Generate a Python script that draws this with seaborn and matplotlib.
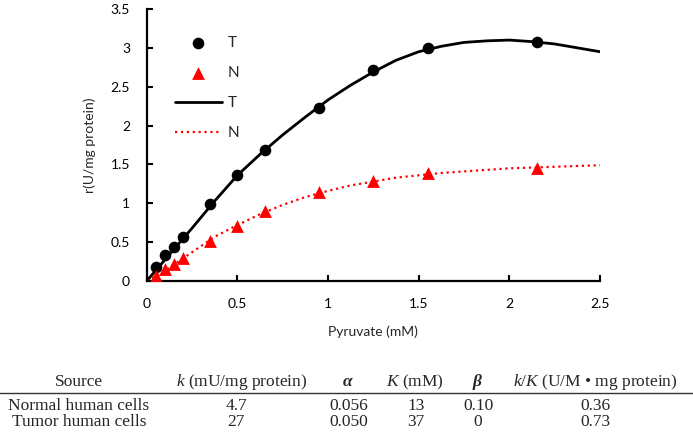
import matplotlib
matplotlib.use('Agg')
import matplotlib.pyplot as plt
import seaborn as sns
from matplotlib.lines import Line2D

# measured points (pyruvate mM vs rate)
pyruvate = [0.05, 0.1, 0.15, 0.2, 0.35, 0.5, 0.65, 0.95, 1.25, 1.55, 2.15]
rate_t = [0.18, 0.33, 0.44, 0.56, 0.99, 1.36, 1.68, 2.23, 2.71, 3.00, 3.07]
rate_n = [0.07, 0.15, 0.22, 0.29, 0.52, 0.71, 0.90, 1.14, 1.29, 1.39, 1.45]

# fitted curves
fit_x = [0, 0.125, 0.25, 0.375, 0.5, 0.625, 0.75, 0.875, 1.0, 1.125, 1.25,
         1.375, 1.5, 1.625, 1.75, 1.875, 2.0, 2.125, 2.25, 2.375, 2.5]
fit_t = [0, 0.34, 0.68, 1.03, 1.36, 1.63, 1.88, 2.11, 2.33, 2.52, 2.69,
         2.84, 2.95, 3.02, 3.07, 3.09, 3.10, 3.08, 3.05, 3.00, 2.95]
fit_n = [0, 0.17, 0.37, 0.57, 0.72, 0.86, 0.98, 1.08, 1.16, 1.23, 1.28,
         1.33, 1.36, 1.39, 1.41, 1.43, 1.45, 1.46, 1.47, 1.48, 1.49]

x_ticks = [0, 0.5, 1, 1.5, 2, 2.5]
x_tick_labels = ['0', '0.5', '1', '1.5', '2', '2.5']
y_ticks = [0, 0.5, 1, 1.5, 2, 2.5, 3, 3.5]
y_tick_labels = ['0', '0.5', '1', '1.5', '2', '2.5', '3', '3.5']

# table below the chart
table_header = ['Source', r'$k$ (mU/mg protein)', 'α', r'$K$ (mM)', 'β',
                r'$k/K$ (U/M • mg protein)']
sources = ['Normal human cells', 'Tumor human cells']
k_vals = ['4.7', '27']
alpha_vals = ['0.056', '0.050']
K_vals = ['13', '37']
beta_vals = ['0.10', '0']
kK_vals = ['0.36', '0.73']

sns.set_style('ticks')
plt.rcParams['font.family'] = ['Lato', 'DejaVu Sans']
plt.rcParams['mathtext.fontset'] = 'custom'
plt.rcParams['mathtext.it'] = 'Liberation Serif:italic'
plt.rcParams['mathtext.rm'] = 'Liberation Serif'

fig = plt.figure(figsize=(6.93, 4.32), dpi=100)
ax = fig.add_axes([0.2117, 0.3495, 0.6541, 0.6297])

sns.lineplot(x=fit_x, y=fit_t, color='black', lw=2, ax=ax, label='T')
sns.lineplot(x=fit_x, y=fit_n, color='red', lw=1.6, linestyle=':', ax=ax, label='N')
sns.scatterplot(x=pyruvate, y=rate_t, marker='o', s=70, color='black',
                edgecolor='black', linewidth=0, ax=ax, label='T', zorder=3)
sns.scatterplot(x=pyruvate, y=rate_n, marker='^', s=85, color='red',
                edgecolor='red', linewidth=0, ax=ax, label='N', zorder=3)

handles, labels = ax.get_legend_handles_labels()
order = [2, 3, 0, 1]
ax.legend([handles[i] for i in order], [labels[i] for i in order],
          loc='upper left', bbox_to_anchor=(0.062, 0.90), frameon=False,
          borderpad=0, borderaxespad=0, handlelength=3.1, handletextpad=0.35,
          labelspacing=1.05, fontsize=11)

ax.set_xlim(0, 2.5)
ax.set_ylim(0, 3.5)
ax.set_xticks(x_ticks)
ax.set_xticklabels(x_tick_labels)
ax.set_yticks(y_ticks)
ax.set_yticklabels(y_tick_labels)
ax.tick_params(direction='in', length=4, width=1.5, labelsize=10, pad=12,
               colors='black')
for side in ['left', 'bottom']:
    ax.spines[side].set_linewidth(1.6)
    ax.spines[side].set_color('black')
sns.despine(ax=ax)

ax.set_xlabel('Pyruvate (mM)', fontsize=10)
ax.set_ylabel('r(U/mg protein)', fontsize=10)
ax.xaxis.set_label_coords(0.5, -0.165)
ax.yaxis.set_label_coords(-0.112, 0.5)

# table text
col_x = [79, 242, 348, 415, 477, 595]
val_x = [79, 236, 349, 416, 478, 595]
W, H = 693, 432
tfont = dict(family='Liberation Serif', fontsize=12.5, ha='center', va='baseline')
for i, txt in enumerate(table_header):
    extra = {}
    if txt in ('α', 'β'):
        extra = dict(fontstyle='italic', fontweight='bold')
    fig.text(col_x[i] / W, 1 - 386 / H, txt, **tfont, **extra)

fig.add_artist(Line2D([0, 1], [1 - 393 / H, 1 - 393 / H], color='#333333', lw=1))

rows = list(zip(sources, k_vals, alpha_vals, K_vals, beta_vals, kK_vals))
for r, row in enumerate(rows):
    yb = 1 - (410 + 16 * r) / H
    for i, txt in enumerate(row):
        fig.text(val_x[i] / W, yb, txt, **tfont)

fig.savefig('out.png', dpi=100)
